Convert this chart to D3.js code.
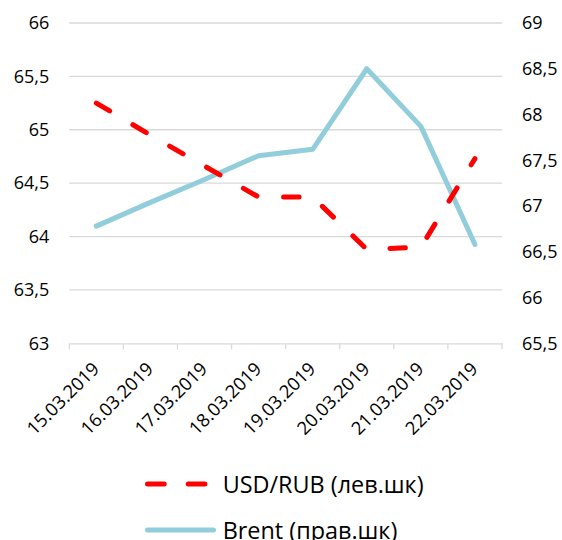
<!DOCTYPE html>
<html>
<head>
<meta charset="utf-8">
<script src="https://cdn.jsdelivr.net/npm/d3@7"></script>
<style>
  html, body { margin: 0; padding: 0; background: #fff; }
  svg { display: block; }
  text { font-family: "Open Sans", "DejaVu Sans", sans-serif; fill: #000; }
</style>
</head>
<body>
<svg id="chart" width="562" height="540"></svg>
<script>
const categories = ["15.03.2019","16.03.2019","17.03.2019","18.03.2019","19.03.2019","20.03.2019","21.03.2019","22.03.2019"];
const usdRub = [65.25, 64.95, 64.66, 64.37, 64.37, 63.88, 63.90, 64.73];
const brent  = [66.78, 67.04, 67.29, 67.55, 67.62, 68.50, 67.87, 66.58];
const leftTicks  = [63, 63.5, 64, 64.5, 65, 65.5, 66];
const rightTicks = [65.5, 66, 66.5, 67, 67.5, 68, 68.5, 69];
const seriesNames = ["USD/RUB (лев.шк)", "Brent (прав.шк)"];

const svg = d3.select("#chart");
const plot = { left: 69.3, right: 502, top: 23, bottom: 343.3 };

const x = d3.scaleBand().domain(categories).range([plot.left, plot.right]).padding(0);
const yL = d3.scaleLinear().domain([63, 66]).range([plot.bottom, plot.top]);
const yR = d3.scaleLinear().domain([65.5, 69]).range([plot.bottom, plot.top]);
const fmt = v => String(v).replace(".", ",");

// gridlines
svg.append("g").selectAll("line").data(leftTicks.slice(1)).join("line")
  .attr("x1", plot.left).attr("x2", plot.right)
  .attr("y1", d => yL(d)).attr("y2", d => yL(d))
  .attr("stroke", "#d9d9d9").attr("stroke-width", 1.3);

// x axis baseline with ticks between categories
const xAxis = d3.axisBottom(x).tickSize(0).tickFormat("");
const gx = svg.append("g").attr("transform", `translate(0,${plot.bottom})`).call(xAxis);
gx.select(".domain").attr("stroke", "#d9d9d9").attr("stroke-width", 1.3);
const bounds = categories.map(c => x(c)).concat([plot.right]);
gx.selectAll(".bt").data(bounds).join("line").attr("class", "bt")
  .attr("x1", d => d).attr("x2", d => d).attr("y1", 0).attr("y2", 6)
  .attr("stroke", "#d9d9d9").attr("stroke-width", 1.3);

// x labels rotated
svg.append("g").selectAll("text").data(categories).join("text")
  .attr("transform", d => `translate(${x(d) + x.bandwidth()/2 + 4},370) rotate(-45)`)
  .attr("text-anchor", "end")
  .style("font-size", "18.3px")
  .text(d => d);

// left axis labels
const yAxisL = d3.axisLeft(yL).tickValues(leftTicks).tickFormat(fmt).tickSize(0).tickPadding(0);
const gl = svg.append("g").attr("transform", `translate(49.3,0)`).call(yAxisL);
gl.select(".domain").remove();
gl.selectAll("text").style("font-size", "18px").style("font-family", "'Open Sans'").attr("fill", "#000");

// right axis labels
const yAxisR = d3.axisRight(yR).tickValues(rightTicks).tickFormat(fmt).tickSize(0).tickPadding(0);
const gr = svg.append("g").attr("transform", `translate(522,0)`).call(yAxisR);
gr.select(".domain").remove();
gr.selectAll("text").style("font-size", "18px").style("font-family", "'Open Sans'").attr("fill", "#000");

const cx = d => x(d) + x.bandwidth()/2;

// Brent line
svg.append("path")
  .datum(categories.map((c, i) => [cx(c), yR(brent[i])]))
  .attr("d", d3.line())
  .attr("fill", "none").attr("stroke", "#92cddc").attr("stroke-width", 5)
  .attr("stroke-linejoin", "round").attr("stroke-linecap", "round");

// USD/RUB dashed line
svg.append("path")
  .datum(categories.map((c, i) => [cx(c), yL(usdRub[i])]))
  .attr("d", d3.line())
  .attr("fill", "none").attr("stroke", "#ff0000").attr("stroke-width", 5)
  .attr("stroke-dasharray", "15.5,27")
  .attr("stroke-linejoin", "round").attr("stroke-linecap", "round");

// legend
const lg = svg.append("g");
lg.append("line").attr("x1", 147.5).attr("x2", 206).attr("y1", 484).attr("y2", 484)
  .attr("stroke", "#ff0000").attr("stroke-width", 5).attr("stroke-linecap", "round")
  .attr("stroke-dasharray", "16.7,24");
lg.append("text").attr("x", 222.7).attr("y", 493.3).style("font-size", "23.4px").text(seriesNames[0]);
lg.append("line").attr("x1", 147.5).attr("x2", 213.5).attr("y1", 530).attr("y2", 530)
  .attr("stroke", "#92cddc").attr("stroke-width", 5).attr("stroke-linecap", "round");
lg.append("text").attr("x", 222.7).attr("y", 538.5).style("font-size", "23.4px").text(seriesNames[1]);
</script>
</body>
</html>
